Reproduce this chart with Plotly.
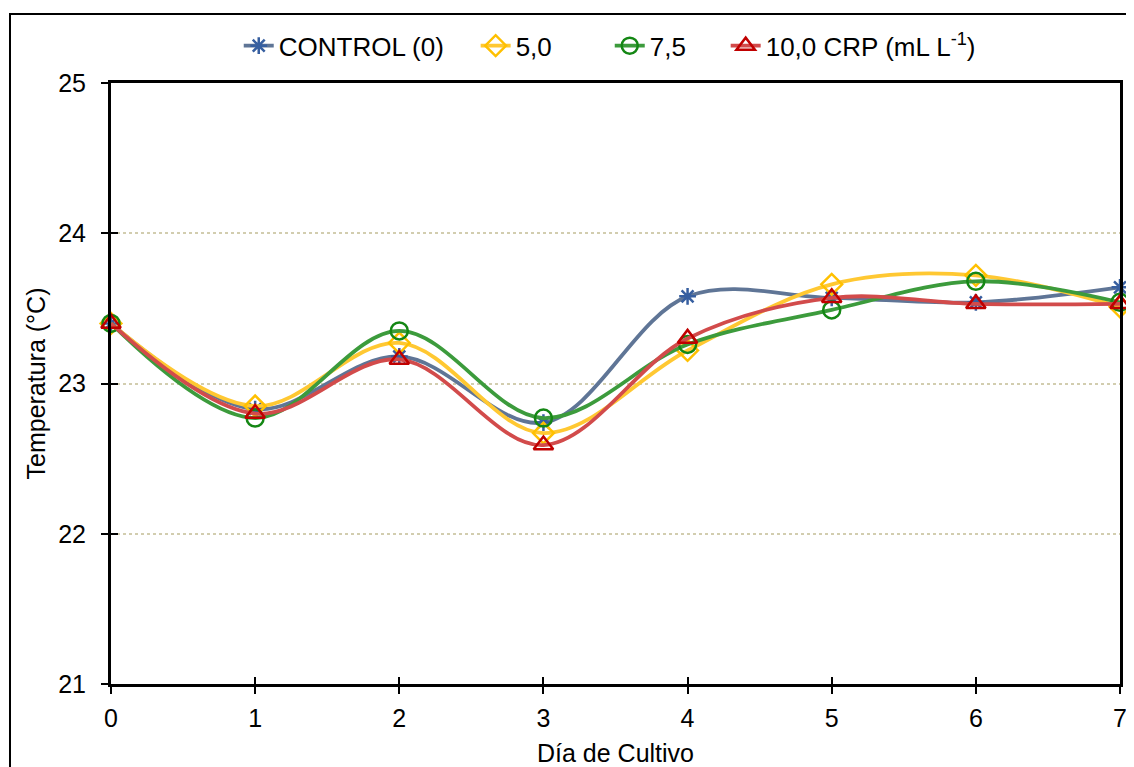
import plotly.graph_objects as go

days = [0, 1, 2, 3, 4, 5, 6, 7]
control = [23.40, 22.83, 23.18, 22.74, 23.58, 23.57, 23.54, 23.64]
crp_5 = [23.40, 22.85, 23.27, 22.67, 23.22, 23.66, 23.72, 23.51]
crp_7_5 = [23.40, 22.77, 23.35, 22.77, 23.26, 23.49, 23.68, 23.54]
crp_10 = [23.40, 22.80, 23.16, 22.59, 23.30, 23.57, 23.53, 23.53]

names = ["CONTROL (0)", "5,0", "7,5", "10,0 CRP (mL L<sup>-1</sup>)"]
series = [control, crp_5, crp_7_5, crp_10]
line_colors = ["rgb(95,117,150)", "rgb(255,200,50)", "rgb(60,155,60)", "rgb(210,75,75)"]
marker_colors = ["rgb(55,95,160)", "rgb(255,192,0)", "rgb(20,135,20)", "rgb(192,0,0)"]
symbols = ["asterisk-open", "diamond-open", "circle-open", "triangle-up-open"]
sizes = [14, 16, 17, 17]
legend_ids = ["legend", "legend2", "legend3", "legend4"]
legend_x = [0.1266, 0.3614, 0.4943, 0.6092]

FONT = "Liberation Sans, Arial, sans-serif"

fig = go.Figure()
for nm, ys, lc, mc, sym, sz, lid in zip(names, series, line_colors, marker_colors,
                                         symbols, sizes, legend_ids):
    fig.add_trace(go.Scatter(
        x=days, y=ys, name=nm, mode="lines+markers", legend=lid,
        line=dict(color=lc, width=3.8, shape="spline", smoothing=1.0),
        marker=dict(symbol=sym, size=sz, color=mc, line=dict(color=mc, width=2.5)),
        cliponaxis=False,
    ))

# helper invisible trace for inside tick marks (cross ticks)
fig.add_trace(go.Scatter(x=[0], y=[21], xaxis="x2", yaxis="y2", mode="markers",
                         marker=dict(opacity=0), showlegend=False, hoverinfo="skip"))

legend_style = dict(orientation="h", xanchor="left", yanchor="middle", y=1.062,
                    font=dict(size=26, family=FONT, color="black"),
                    bgcolor="rgba(0,0,0,0)", borderwidth=0)
layout_legends = {lid: dict(legend_style, x=lx) for lid, lx in zip(legend_ids, legend_x)}

fig.update_layout(
    width=1126, height=759,
    margin=dict(l=103, r=14, t=75, b=83, autoexpand=False),
    paper_bgcolor="white", plot_bgcolor="white",
    font=dict(family=FONT, size=25, color="black"),
    showlegend=True,
    xaxis=dict(range=[0, 7], tickvals=days, ticks="outside", ticklen=7, tickwidth=2,
               tickcolor="black", showline=True, linecolor="black", linewidth=3,
               mirror=True, showgrid=False, zeroline=False, automargin=False,
               ticklabelstandoff=3,
               title=dict(text="Día de Cultivo", standoff=14, font=dict(size=25))),
    yaxis=dict(range=[21, 25], tickvals=[21, 22, 23, 24, 25], ticks="outside", ticklen=7,
               tickwidth=2, tickcolor="black", showline=True, linecolor="black", linewidth=3,
               mirror=True, showgrid=True, gridcolor="rgb(210,205,175)", gridwidth=2,
               griddash="dot", zeroline=False, ticklabelstandoff=10, automargin=False,
               title=dict(text="Temperatura (°C)", standoff=6, font=dict(size=25))),
    xaxis2=dict(range=[0, 7], tickvals=days, ticks="inside", ticklen=7, tickwidth=2,
                tickcolor="black", showticklabels=False, showgrid=False, zeroline=False,
                overlaying="x", anchor="y2", showline=False, automargin=False),
    yaxis2=dict(range=[21, 25], tickvals=[21, 22, 23, 24, 25], ticks="inside", ticklen=7,
                tickwidth=2, tickcolor="black", showticklabels=False, showgrid=False,
                zeroline=False, overlaying="y", anchor="x2", showline=False, automargin=False),
    shapes=[dict(type="rect", xref="paper", yref="paper", x0=-0.1001, x1=1.05, y0=-0.2,
                 y1=1.1148, line=dict(color="black", width=2), fillcolor="rgba(0,0,0,0)",
                 layer="below")],
    **layout_legends,
)

fig.write_html("out.html")
